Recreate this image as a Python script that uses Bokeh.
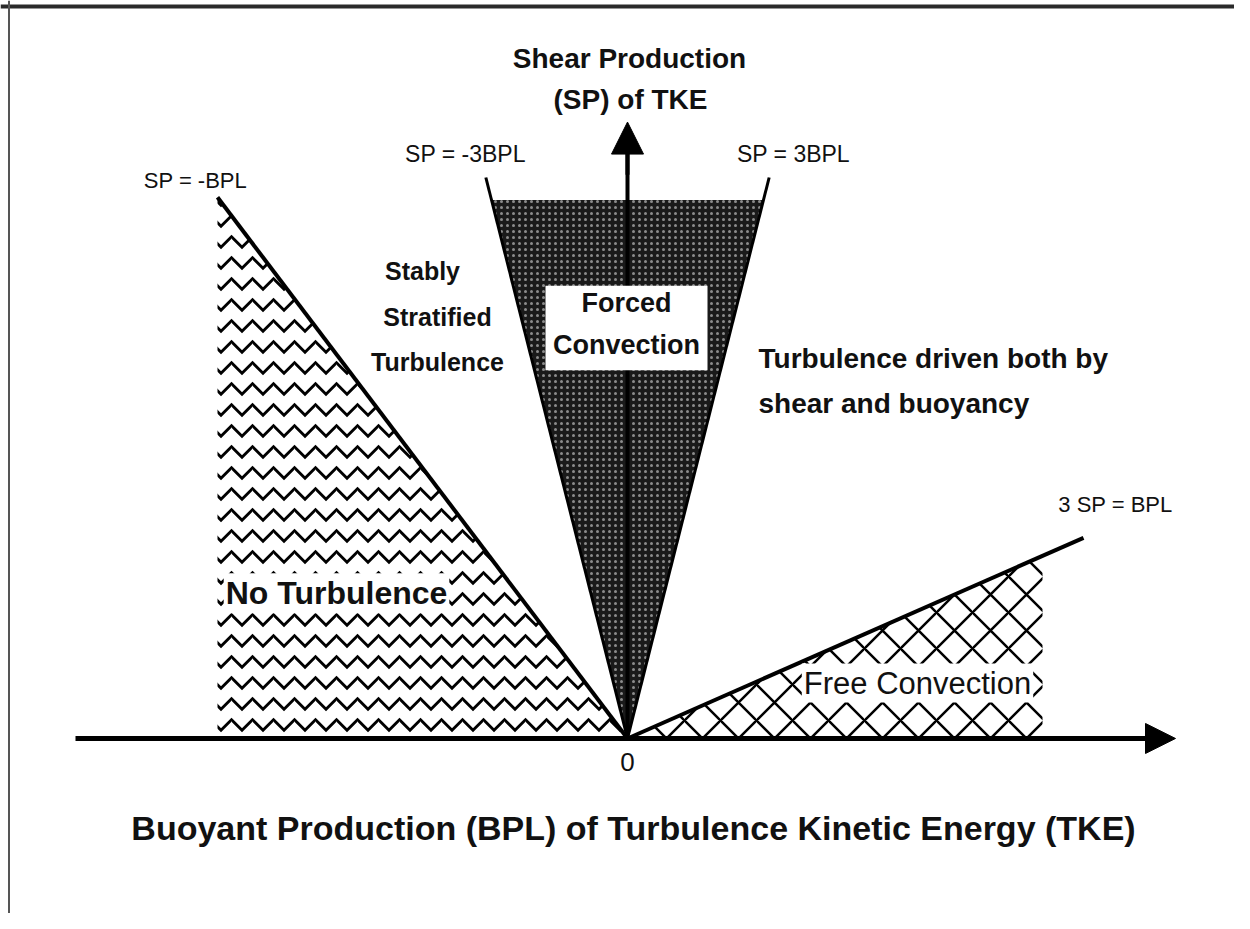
from bokeh.plotting import figure
from bokeh.models import Range1d, Arrow, NormalHead, Span
from bokeh.core.properties import value
from bokeh.embed import file_html
from bokeh.resources import INLINE

# ---- data (BPL on x, SP on y; origin = 0) ----
no_turb_x = [-4.1, 0.0, -4.1]
no_turb_y = [0.0, 0.0, 4.1]
forced_x = [0.0, -1.36, 1.36]
forced_y = [0.0, 4.08, 4.08]
free_x = [0.0, 4.15, 4.15]
free_y = [0.0, 4.15 / 3, 0.0]

# boundary lines
neg_bpl_x = [-4.1, 0.0]          # SP = -BPL
neg3_x = [-4.25 / 3, 0.0]        # SP = -3BPL
neg3_y = [4.25, 0.0]
pos3_x = [0.0, 4.25 / 3]         # SP = 3BPL
pos3_y = [0.0, 4.25]
third_x = [0.0, 4.56]            # 3 SP = BPL

# axis extents
x_axis = [-5.52, 5.48]
y_axis_top = 4.67

FONT = value("Liberation Sans")

p = figure(width=1234, height=913, output_backend="svg", toolbar_location=None,
           x_range=Range1d(-6.27, 6.07), y_range=Range1d(-1.326, 5.591),
           x_axis_location=None, y_axis_location=None, min_border=0)
p.grid.visible = False
p.outline_line_color = None
p.background_fill_color = "white"

# scan border
p.add_layout(Span(location=5.545, dimension="width", line_color="#2a2a2a", line_width=4))
p.add_layout(Span(location=-6.185, dimension="height", line_color="#555555", line_width=2))

# regions
p.patch(no_turb_x, no_turb_y, fill_color="white", line_color=None,
        hatch_pattern="horizontal_wave", hatch_color="black", hatch_scale=21, hatch_weight=3)
p.patch(forced_x, forced_y, fill_color="#1a1a1a", line_color=None,
        hatch_pattern="dot", hatch_color="#8c8c8c", hatch_scale=6, hatch_weight=1)
p.patch(free_x, free_y, fill_color="white", line_color=None,
        hatch_pattern="diagonal_cross", hatch_color="black", hatch_scale=36, hatch_weight=2.5)

# boundary lines
p.line(neg_bpl_x, [-v for v in neg_bpl_x], line_color="black", line_width=4)
p.line(neg3_x, neg3_y, line_color="black", line_width=3)
p.line(pos3_x, pos3_y, line_color="black", line_width=3)
p.line(third_x, [v / 3 for v in third_x], line_color="black", line_width=4)

# vertical axis shaft as a glyph (so the white box can cover it)
p.segment(x0=[0], y0=[0], x1=[0], y1=[y_axis_top - 0.2], line_color="black", line_width=4)

# axes arrowheads
p.add_layout(Arrow(end=NormalHead(size=30, fill_color="black", line_color="black"),
                   x_start=x_axis[0], y_start=0, x_end=x_axis[1], y_end=0,
                   line_width=5, line_color="black"))
p.add_layout(Arrow(end=NormalHead(size=32, fill_color="black", line_color="black"),
                   x_start=0, y_start=y_axis_top - 0.4, x_end=0, y_end=y_axis_top,
                   line_width=4, line_color="black"))

# white box for Forced Convection
p.quad(left=[-0.82], right=[0.80], bottom=[2.79], top=[3.43],
       fill_color="white", line_color=None)

def label(x, y, t, size, bold=True, align="center", bg=None):
    kw = {}
    if bg:
        kw = dict(background_fill_color=bg, padding=2)
    p.text([x], [y], text=[t], text_font=FONT, text_font_size=size,
           text_font_style="bold" if bold else "normal", text_color="#111111",
           text_align=align, text_baseline="middle", **kw)

label(0.02, 5.15, "Shear Production", "28px")
label(0.03, 4.84, "(SP) of TKE", "28px")
label(-1.62, 4.43, "SP = -3BPL", "23px", bold=False)
label(1.66, 4.43, "SP = 3BPL", "23px", bold=False)
label(-4.32, 4.23, "SP = -BPL", "22px", bold=False)
label(4.88, 1.77, "3 SP = BPL", "22px", bold=False)
label(-2.05, 3.54, "Stably", "25px")
label(-1.90, 3.19, "Stratified", "25px")
label(-1.90, 2.85, "Turbulence", "25px")
label(1.31, 2.88, "Turbulence driven both by", "28px", align="left")
label(1.31, 2.54, "shear and buoyancy", "28px", align="left")
label(-0.01, 3.30, "Forced", "27px")
label(-0.01, 2.98, "Convection", "27px")
label(-2.91, 1.10, "No Turbulence", "32px", bg="white")
label(2.90, 0.42, "Free Convection", "31px", bold=False, bg="white")
label(0.0, -0.18, "0", "26px", bold=False)
label(0.06, -0.68, "Buoyant Production (BPL) of Turbulence Kinetic Energy (TKE)", "34px")

open("out.html", "w").write(file_html(p, INLINE))
